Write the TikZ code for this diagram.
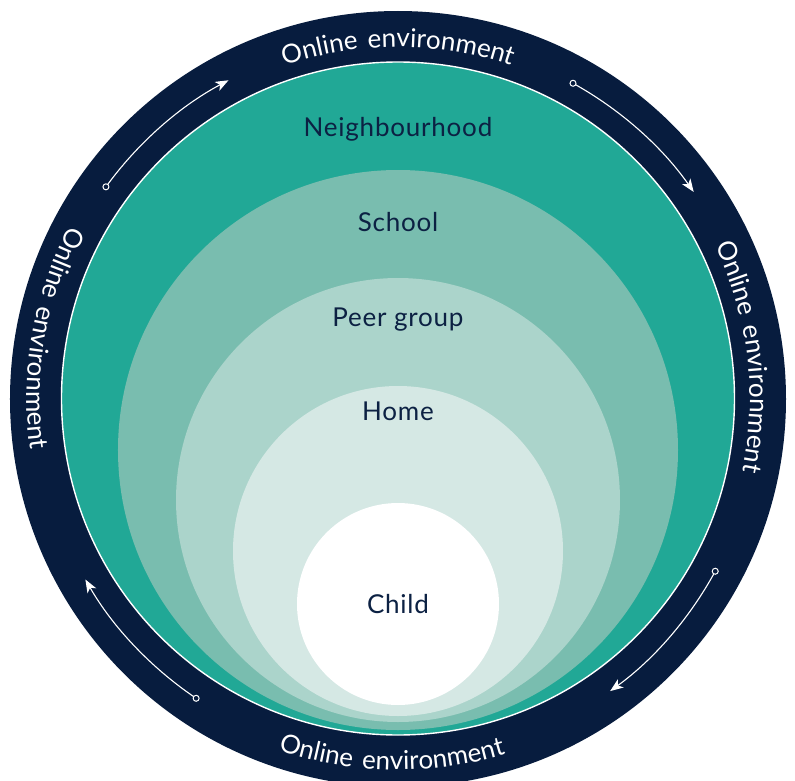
\documentclass[tikz,border=0pt]{standalone}
\usepackage{fontspec}
\setmainfont{Lato}
\newfontfamily\lblfont[LetterSpace=3]{Lato}
\newfontfamily\bandfont[LetterSpace=12]{Lato}
\usetikzlibrary{decorations.text,arrows.meta}
\definecolor{cNavy}{HTML}{071C3E}
\definecolor{cText}{HTML}{0C2143}
\definecolor{cTeal}{HTML}{21A896}
\definecolor{cSchool}{HTML}{79BDAF}
\definecolor{cPeer}{HTML}{ABD4CB}
\definecolor{cHome}{HTML}{D5E8E4}
\tikzset{
  lbl/.style={anchor=base, text=cText, font=\lblfont\fontsize{26}{30}\selectfont, inner sep=0pt},
  flowarc/.style={draw=white, line width=1.1pt, -{Stealth[length=13pt,width=10pt,inset=3.5pt]}},
  startdot/.style={circle, draw=white, fill=cNavy, line width=1pt, minimum size=6pt, inner sep=0pt},
  bandtext/.style={decorate, decoration={text along path, text align=center,
      text={|\bandfont\fontsize{26}{30}\selectfont\color{white}|Online environment}}}
}
\begin{document}
\begin{tikzpicture}[x=1pt,y=1pt]
\useasboundingbox (-398,-381) rectangle (397,399);
% rings
\fill[cNavy] (0,0) circle[radius=388];
\filldraw[fill=cTeal, draw=white, line width=1.4pt] (0,0.5) circle[radius=336.5];
\fill[cSchool] (0,-51) circle[radius=280];
\fill[cPeer] (0,-101) circle[radius=222];
\fill[cHome] (0,-152) circle[radius=165];
\fill[white] (0,-205) circle[radius=101];
% labels
\node[lbl] (nb) at (0,263) {Neighbourhood};
\node[lbl] (sc) at (0,168) {School};
\node[lbl] (pg) at (0,73) {Peer group};
\node[lbl] (hm) at (0,-21) {Home};
\node[lbl] (ch) at (0,-214) {Child};
% band texts
\path[bandtext] (117:352) arc[start angle=117, end angle=63, radius=352];
\path[bandtext] (34:352) arc[start angle=34, end angle=-20, radius=352];
\path[bandtext] (242:371) arc[start angle=242, end angle=296, radius=371];
\path[bandtext] (143:371) arc[start angle=143, end angle=197, radius=371];
% arrows
\coordinate (s1) at (144:361);
\coordinate (s2) at (61:361);
\coordinate (s3) at (-28.5:361);
\coordinate (s4) at (236:361);
\draw[flowarc] (s1) arc[start angle=144, end angle=118, radius=361];
\draw[flowarc] (s2) arc[start angle=61, end angle=35, radius=361];
\draw[flowarc] (s3) arc[start angle=-28.5, end angle=-54, radius=361];
\draw[flowarc] (s4) arc[start angle=236, end angle=210, radius=361];
\node[startdot] (d1) at (s1) {};
\node[startdot] (d2) at (s2) {};
\node[startdot] (d3) at (s3) {};
\node[startdot] (d4) at (s4) {};
\end{tikzpicture}
\end{document}
